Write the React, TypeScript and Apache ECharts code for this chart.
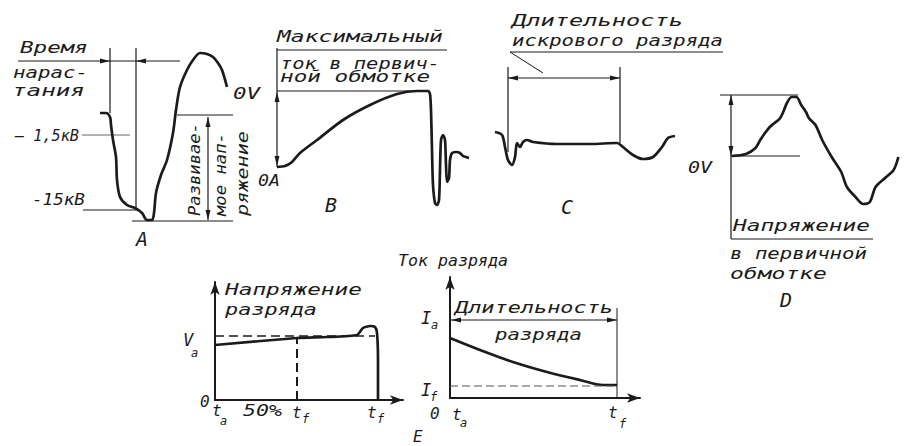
import React, { useEffect, useRef } from "react";
import * as echarts from "echarts";

// ---- Data: each trace is [time, amplitude] in the panel's own units ----
// A: secondary voltage trace (firing line)
const traceA: [number, number][] = [
  [5, 117], [11, 117], [15, 113], [16, 105], [18, 90], [21, 73], [22, 50], [25, 33],
  [32, 25], [40, 22], [47, 17], [52, 10], [57, 10], [59, 17], [61, 37], [66, 55],
  [72, 70], [78, 97], [81, 120], [85, 143], [92, 160], [98, 170], [105, 177],
  [112, 176], [118, 173], [123, 167], [127, 160], [132, 143],
];
// B: primary winding current / voltage
const traceB: [number, number][] = [
  [7, 43], [15, 44], [22, 48], [30, 57], [47, 70], [73, 90], [100, 105], [127, 116],
  [147, 119], [158, 119], [160, 116], [161, 100], [162, 60], [163, 25], [165, 7],
  [167, 5], [169, 10], [170, 40], [171, 70], [173, 75], [175, 70], [176, 45],
  [177, 28], [179, 32], [180, 50], [182, 57], [186, 58], [190, 57], [193, 54],
  [196, 53], [199, 52],
];
// C: spark line
const traceC: [number, number][] = [
  [5, 38], [12, 35], [15, 23], [18, 10], [22, 5], [25, 13], [27, 27], [30, 23],
  [33, 28], [37, 30], [43, 28], [67, 26], [100, 26], [127, 27], [133, 23], [143, 15],
  [153, 11], [163, 13], [172, 23], [178, 32], [185, 34],
];
// D: primary winding voltage
const traceD: [number, number][] = [
  [7, 59], [22, 61], [32, 67], [37, 75], [42, 82], [47, 88], [52, 92], [58, 97],
  [62, 105], [65, 112], [70, 118], [75, 118], [80, 110], [85, 103], [88, 97],
  [95, 90], [102, 75], [112, 58], [122, 43], [128, 28], [137, 18], [145, 11],
  [152, 13], [158, 28], [168, 37], [177, 45], [182, 58],
];
// E (left): discharge voltage
const traceE1: [number, number][] = [
  [0, 55], [82, 62], [112, 63], [142, 65], [148, 72], [155, 74], [160, 73],
  [162, 67], [163, 40], [163, 0],
];
const levelVa = 64;
const tHalf = 82;
// E (right): discharge current
const traceE2: [number, number][] = [
  [0, 60], [30, 48], [63, 36], [97, 26], [130, 18], [153, 13], [167, 13],
];
const levelIf = 12;
const tEndE2 = 167;

// ---- Styling / layout ----
const INK = "#1b1b1b";
const FAM = "'DejaVu Sans Mono', monospace";

const boxes = [
  { left: 95, top: 45, width: 140, height: 185, axes: false },   // A
  { left: 270, top: 85, width: 205, height: 125, axes: false },  // B
  { left: 490, top: 130, width: 190, height: 40, axes: false },  // C
  { left: 725, top: 90, width: 190, height: 125, axes: false },  // D
  { left: 215, top: 282, width: 188, height: 118, axes: true },  // E1
  { left: 450, top: 277, width: 190, height: 121, axes: true },  // E2
];

function txt(s: string, x: number, y: number, w: number | null, fs = 16, extra: any = {}) {
  const sx = w ? w / (s.length * 0.602 * fs) : 1;
  return {
    type: "text",
    x,
    y,
    scaleX: sx,
    silent: true,
    ...extra,
    style: {
      text: s,
      fill: INK,
      font: `italic ${fs}px ${FAM}`,
      textAlign: "left",
      textVerticalAlign: "middle",
      verticalAlign: "middle",
    },
  };
}

function ln(x1: number, y1: number, x2: number, y2: number, w = 1.2, color = INK, dash?: number[]) {
  return {
    type: "line",
    silent: true,
    shape: { x1, y1, x2, y2 },
    style: { stroke: color, lineWidth: w, lineDash: dash },
  };
}

function arrow(x: number, y: number, dir: "up" | "down" | "left" | "right", len = 10, hw = 2.5) {
  let pts: number[][] = [];
  if (dir === "up") pts = [[x, y], [x - hw, y + len], [x + hw, y + len]];
  if (dir === "down") pts = [[x, y], [x - hw, y - len], [x + hw, y - len]];
  if (dir === "left") pts = [[x, y], [x + len, y - hw], [x + len, y + hw]];
  if (dir === "right") pts = [[x, y], [x - len, y - hw], [x - len, y + hw]];
  return { type: "polygon", silent: true, shape: { points: pts }, style: { fill: INK } };
}

export default function App() {
  const ref = useRef<HTMLDivElement>(null);
  useEffect(() => {
    if (!ref.current) return;
    const chart = echarts.init(ref.current, null, { renderer: "svg" });

    const grid = boxes.map((b) => ({ left: b.left, top: b.top, width: b.width, height: b.height }));
    const axisCommon = (b: any, i: number, isX: boolean) => ({
      gridIndex: i,
      type: "value",
      min: 0,
      max: isX ? b.width : b.height,
      show: true,
      axisLine: b.axes
        ? { show: true, lineStyle: { color: INK, width: 2 }, symbol: ["none", "arrow"], symbolSize: [7, 13] }
        : { show: false },
      axisTick: { show: false },
      axisLabel: { show: false },
      splitLine: { show: false },
    });
    const xAxis = boxes.map((b, i) => axisCommon(b, i, true));
    const yAxis = boxes.map((b, i) => axisCommon(b, i, false));

    const curve = (data: any, i: number, smooth = 0.3, width = 2.7) => ({
      type: "line",
      xAxisIndex: i,
      yAxisIndex: i,
      data,
      showSymbol: false,
      smooth,
      silent: true,
      lineStyle: { color: INK, width },
    });

    const series: any[] = [
      curve(traceA, 0, 0.3),
      curve(traceB, 1, 0.25),
      curve(traceC, 2, 0.3),
      curve(traceD, 3, 0.3),
      curve(traceE1, 4, 0.2),
      curve(traceE2, 5, 0.3),
      {
        type: "line", xAxisIndex: 4, yAxisIndex: 4, showSymbol: false, silent: true,
        data: [[0, levelVa], [traceE1[traceE1.length - 4][0], levelVa]],
        lineStyle: { color: INK, width: 1.6, type: [9, 5] },
      },
      {
        type: "line", xAxisIndex: 4, yAxisIndex: 4, showSymbol: false, silent: true,
        data: [[tHalf, 0], [tHalf, traceE1[1][1]]],
        lineStyle: { color: INK, width: 2, type: [9, 5] },
      },
      {
        type: "line", xAxisIndex: 5, yAxisIndex: 5, showSymbol: false, silent: true,
        data: [[0, levelIf], [tEndE2, levelIf]],
        lineStyle: { color: "#555", width: 1.2, type: [8, 4] },
      },
      {
        type: "line", xAxisIndex: 5, yAxisIndex: 5, showSymbol: false, silent: true,
        data: [[tEndE2, 0], [tEndE2, 90]],
        lineStyle: { color: INK, width: 1 },
      },
    ];

    const graphic: any[] = [
      // ---- Panel A ----
      txt("Время", 20, 48, 68),
      ln(18, 61, 180, 61, 1.2),
      arrow(110, 61, "right"),
      arrow(136, 61, "left"),
      ln(110, 48, 110, 113, 1.2),
      ln(136, 48, 136, 210, 1.2),
      txt("нарас-", 13, 72, 75),
      txt("тания", 12, 91, 73),
      txt("– 1,5кВ", 15, 136, 64),
      ln(82, 135, 130, 135, 1, "#666"),
      txt("-15кВ", 32, 199, 53),
      ln(83, 210, 137, 210, 1.2),
      ln(132, 221, 233, 221, 1.2),
      ln(177, 115, 233, 115, 1.2),
      ln(208, 117, 208, 220, 1.2),
      arrow(208, 117, "up"),
      arrow(208, 220, "down"),
      txt("Развивае-", 195, 216, 93, 15, { rotation: Math.PI / 2 }),
      txt("мое нап-", 221, 216, 83, 15, { rotation: Math.PI / 2 }),
      txt("ряжение", 243, 216, 85, 15, { rotation: Math.PI / 2 }),
      txt("A", 136, 239, null, 20),
      // ---- Panel B ----
      txt("0V", 233, 94, 27),
      txt("Максимальный", 277, 37, 166),
      ln(277, 50, 447, 50, 1.2),
      txt("ток в первич-", 280, 63, 160),
      txt("ной обмотке", 280, 77, 150),
      ln(277, 48, 277, 167, 1.2),
      ln(277, 91, 430, 91, 1.2),
      arrow(277, 92, "up"),
      arrow(277, 166, "down"),
      txt("0A", 258, 180, 22),
      txt("В", 325, 205, null, 20),
      // ---- Panel C ----
      txt("Длительность", 512, 20, 171),
      txt("искрового разряда", 512, 40, 211),
      ln(510, 52, 723, 52, 1.2),
      ln(510, 52, 543, 73, 1),
      ln(508, 67, 508, 152, 1.2),
      ln(620, 67, 620, 143, 1.2),
      ln(508, 78, 620, 78, 1.2),
      arrow(508, 78, "left"),
      arrow(620, 78, "right"),
      txt("С", 561, 207, null, 20),
      // ---- Panel D ----
      ln(720, 95, 798, 95, 1.2),
      ln(731, 95, 731, 239, 1.2),
      arrow(731, 95, "up"),
      arrow(731, 156, "down"),
      ln(731, 156, 800, 156, 1.2),
      txt("0V", 688, 167, 24),
      txt("Напряжение", 733, 226, 137),
      ln(731, 239, 873, 239, 1.2),
      txt("в первичной", 730, 253, 137),
      txt("обмотке", 730, 274, 97),
      txt("D", 780, 300, null, 20),
      // ---- Panel E ----
      txt("Ток разряда", 398, 261, 110),
      txt("Напряжение", 225, 290, 137),
      txt("разряда", 225, 310, 92),
      txt("V", 183, 340, null, 17),
      txt("a", 191, 353, null, 12),
      txt("0", 200, 401, null, 16),
      txt("t", 212, 410, null, 16),
      txt("a", 220, 421, null, 12),
      txt("50%", 243, 410, 39),
      txt("t", 292, 412, null, 16),
      txt("f", 302, 419, null, 12),
      txt("t", 367, 412, null, 16),
      txt("f", 377, 419, null, 12),
      txt("I", 421, 318, null, 17),
      txt("a", 431, 325, null, 12),
      txt("I", 421, 390, null, 17),
      txt("f", 430, 397, null, 12),
      txt("0", 430, 413, null, 16),
      txt("t", 452, 414, null, 16),
      txt("a", 460, 423, null, 12),
      txt("t", 608, 412, null, 16),
      txt("f", 619, 424, null, 12),
      txt("E", 413, 436, null, 16),
      txt("Длительность", 455, 308, 158),
      txt("разряда", 495, 334, 87),
      ln(450, 320, 617, 320, 1.2),
      arrow(451, 320, "left"),
      arrow(617, 320, "right"),
    ];

    chart.setOption({
      animation: false,
      backgroundColor: "#ffffff",
      grid,
      xAxis,
      yAxis,
      series,
      graphic,
    });
    return () => chart.dispose();
  }, []);

  return (
    <div
      ref={ref}
      style={{ position: "fixed", left: 0, top: 0, width: 906, height: 446, background: "#fff" }}
    />
  );
}
